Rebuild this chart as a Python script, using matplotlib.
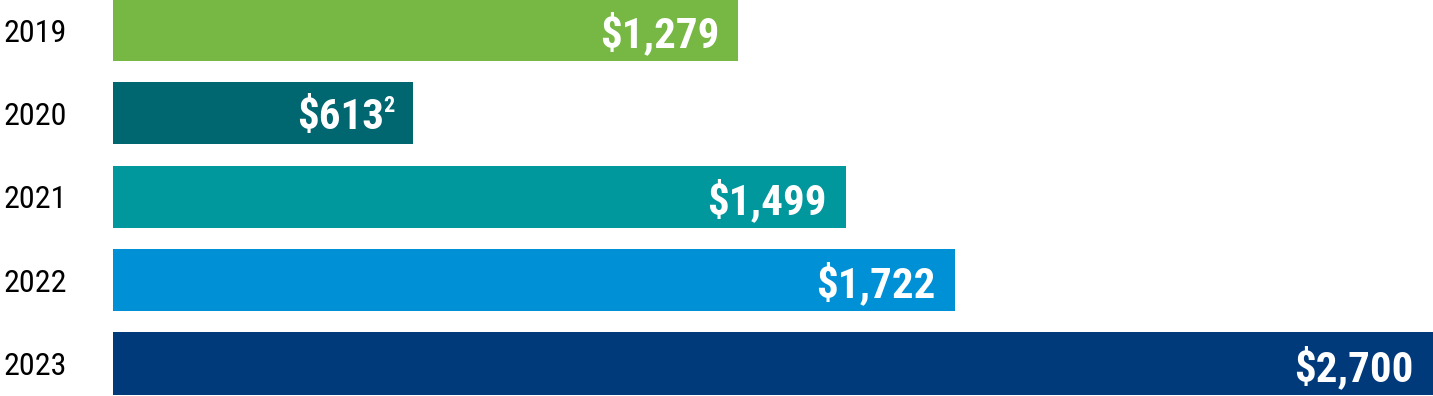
import matplotlib.pyplot as plt

years = ["2019", "2020", "2021", "2022", "2023"]
values = [1279, 613, 1499, 1722, 2700]
labels = ["$1,279", "$613", "$1,499", "$1,722", "$2,700"]
notes = ["", "2", "", "", ""]
colors = ["#76B843", "#006670", "#00979D", "#0090D6", "#003A7B"]

font = ["Roboto Condensed", "DejaVu Sans"]

fig = plt.figure(figsize=(14.33, 3.96), dpi=100)
ax = fig.add_axes([113 / 1433, 0, 1 - 113 / 1433, 1])

pos = range(len(years))
ax.barh(pos, values, height=0.745, color=colors)
ax.set_xlim(0, 2700)
ax.set_ylim(4.39, -0.36)

for i, (v, lab, note) in enumerate(zip(values, labels, notes)):
    off = -19 if not note else -29
    ax.annotate(lab, (v, i), xytext=(off * 0.72, 0), textcoords="offset points",
                ha="right", va="center_baseline", color="white", fontsize=31,
                fontweight="bold", family=font)
    if note:
        ax.annotate(note, (v, i), xytext=(-18 * 0.72, 7), textcoords="offset points",
                    ha="right", va="center_baseline", color="white", fontsize=16,
                    fontweight="bold", family=font)

ax.set_yticks(list(pos))
ax.set_yticklabels(years, family=font, fontsize=23)
ax.tick_params(axis="y", length=0, pad=33)
ax.set_xticks([])
for s in ax.spines.values():
    s.set_visible(False)

fig.savefig("out.png", dpi=100)
